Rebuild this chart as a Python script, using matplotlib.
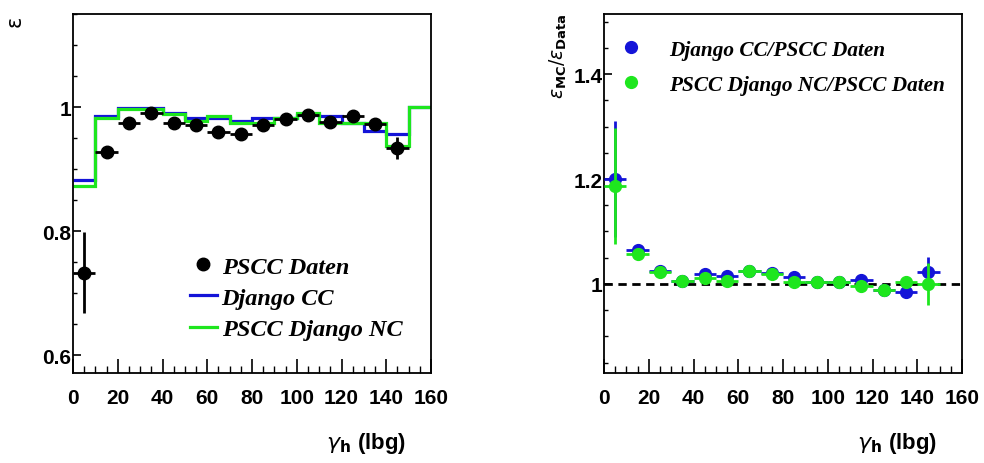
import matplotlib
matplotlib.use('Agg')
import matplotlib.pyplot as plt
from matplotlib.ticker import MultipleLocator, FuncFormatter
from matplotlib.lines import Line2D

plt.rcParams['mathtext.fontset'] = 'dejavusans'

# ---------------- data ----------------
bin_edges = [0, 10, 20, 30, 40, 50, 60, 70, 80, 90, 100, 110, 120, 130, 140, 150, 160]
bin_centers = [5, 15, 25, 35, 45, 55, 65, 75, 85, 95, 105, 115, 125, 135, 145]

pscc_daten = [0.733, 0.928, 0.975, 0.990, 0.974, 0.971, 0.960, 0.956,
              0.971, 0.981, 0.987, 0.976, 0.986, 0.973, 0.934]
pscc_daten_err = [0.065, 0.004, 0.004, 0.004, 0.004, 0.004, 0.004, 0.004,
                  0.004, 0.004, 0.004, 0.004, 0.004, 0.006, 0.018]

django_cc = [0.883, 0.986, 0.999, 0.999, 0.990, 0.983, 0.982, 0.977,
             0.982, 0.983, 0.987, 0.986, 0.975, 0.962, 0.957, 1.0]
pscc_django_nc = [0.873, 0.982, 0.997, 0.997, 0.989, 0.978, 0.986, 0.975,
                  0.975, 0.983, 0.990, 0.975, 0.975, 0.975, 0.937, 1.0]

ratio_cc = [1.200, 1.065, 1.024, 1.005, 1.019, 1.016, 1.025, 1.020,
            1.014, 1.004, 1.004, 1.008, 0.989, 0.985, 1.022]
ratio_cc_err = [0.110, 0.004, 0.004, 0.004, 0.004, 0.004, 0.004, 0.004,
                0.004, 0.004, 0.004, 0.004, 0.004, 0.005, 0.030]
ratio_nc = [1.187, 1.057, 1.022, 1.005, 1.011, 1.006, 1.025, 1.018,
            1.003, 1.004, 1.004, 0.996, 0.989, 1.004, 1.000]
ratio_nc_err = [0.110, 0.004, 0.004, 0.004, 0.004, 0.004, 0.004, 0.004,
                0.004, 0.004, 0.004, 0.004, 0.004, 0.005, 0.040]

half_width = 5

BLUE = '#1414d8'
GREEN = '#1ee61e'

fig = plt.figure(figsize=(9.84, 4.64), dpi=100)
axL = fig.add_axes([73/984, 90/464, 358/984, 359/464])
axR = fig.add_axes([604/984, 90/464, 358/984, 359/464])

TICKSIZE = 15
legfont = dict(family='Liberation Serif', weight='bold', style='italic')
fmt = FuncFormatter(lambda v, p: '%g' % round(v, 2))


def style_axes(ax, ylim, ymajor, yminor):
    ax.set_xlim(0, 160)
    ax.set_ylim(*ylim)
    ax.xaxis.set_major_locator(MultipleLocator(20))
    ax.xaxis.set_minor_locator(MultipleLocator(5))
    ax.yaxis.set_major_locator(MultipleLocator(ymajor))
    ax.yaxis.set_minor_locator(MultipleLocator(yminor))
    ax.yaxis.set_major_formatter(fmt)
    ax.tick_params(axis='x', which='major', direction='in', length=10, width=1.2, top=False, pad=11)
    ax.tick_params(axis='x', which='minor', direction='in', length=5, width=1.0, top=False)
    ax.tick_params(axis='y', which='major', direction='in', length=6, width=1.2, right=False, pad=1)
    ax.tick_params(axis='y', which='minor', direction='in', length=3, width=1.0, right=False)
    for lab in ax.get_xticklabels() + ax.get_yticklabels():
        lab.set_fontfamily('Liberation Sans')
        lab.set_fontweight('bold')
        lab.set_fontsize(TICKSIZE)
    for sp in ax.spines.values():
        sp.set_linewidth(1.3)


# ---------------- left panel ----------------
axL.stairs(django_cc, bin_edges, color=BLUE, lw=2.3, baseline=None)
axL.stairs(pscc_django_nc, bin_edges, color=GREEN, lw=2.3, baseline=None)
axL.errorbar(bin_centers, pscc_daten, xerr=half_width, yerr=pscc_daten_err,
             fmt='o', color='black', ms=9, elinewidth=2, capsize=0, zorder=5)
style_axes(axL, (0.571, 1.15), 0.2, 0.05)

handlesL = [Line2D([], [], marker='o', ls='none', color='black', ms=9),
            Line2D([], [], color=BLUE, lw=2.3),
            Line2D([], [], color=GREEN, lw=2.3)]
axL.legend(handlesL, ['PSCC Daten', 'Django CC', 'PSCC Django NC'],
           loc='upper left', bbox_to_anchor=(0.327, 0.327), frameon=False,
           prop=dict(size=17.5, **legfont), handlelength=1.1, handletextpad=0.2,
           labelspacing=0.38, borderpad=0, borderaxespad=0)

fig.text(15/984, 1 - 21/464, 'ε', rotation=90, ha='center', va='center',
         fontsize=15, family='DejaVu Sans')

# ---------------- right panel ----------------
axR.axhline(1.0, color='black', lw=2, ls=(0, (3, 2)), zorder=1)
axR.errorbar(bin_centers, ratio_cc, xerr=half_width, yerr=ratio_cc_err,
             fmt='o', color=BLUE, ms=8.5, elinewidth=2, capsize=0, zorder=3)
axR.errorbar(bin_centers, ratio_nc, xerr=half_width, yerr=ratio_nc_err,
             fmt='o', color=GREEN, ms=8.5, elinewidth=2, capsize=0, zorder=4)
style_axes(axR, (0.83, 1.515), 0.2, 0.05)

handlesR = [Line2D([], [], marker='o', ls='none', color=BLUE, ms=8.5),
            Line2D([], [], marker='o', ls='none', color=GREEN, ms=8.5)]
axR.legend(handlesR, ['Django CC/PSCC Daten', 'PSCC Django NC/PSCC Daten'],
           loc='upper left', bbox_to_anchor=(0.045, 0.928), frameon=False,
           prop=dict(size=15.3, **legfont), handlelength=1.0, handletextpad=1.3,
           labelspacing=0.69, borderpad=0, borderaxespad=0)

fig.text(558/984, 1 - 56/464, r'$\varepsilon_{\mathbf{MC}}/\varepsilon_{\mathbf{Data}}$',
         rotation=90, ha='center', va='center', fontsize=13.5)

# x labels
for xpos in (366, 897):
    fig.text(xpos/984, 1 - 444/464, r'$\gamma_{\mathbf{h}}$ (lbg)', ha='center', va='center',
             fontsize=16, family='Liberation Sans', weight='bold')

fig.savefig('out.png', dpi=100)
